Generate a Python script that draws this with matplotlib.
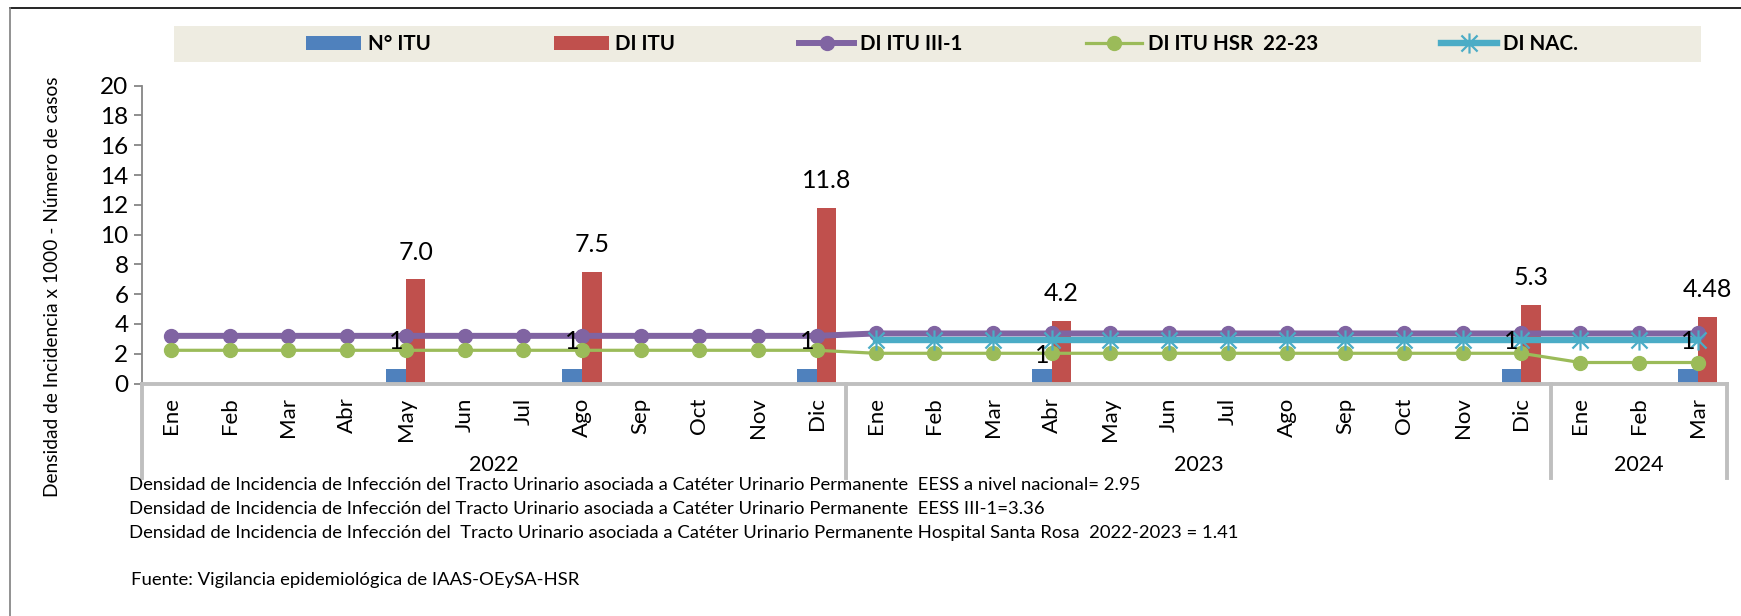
import numpy as np
import matplotlib
matplotlib.use("Agg")
import matplotlib.pyplot as plt
from matplotlib.path import Path
from matplotlib.lines import Line2D
from matplotlib.patches import Rectangle, Patch
import matplotlib.transforms as mtransforms

plt.rcParams['font.family'] = ['Lato', 'DejaVu Sans']

# ---------------- data ----------------
months = ['Ene', 'Feb', 'Mar', 'Abr', 'May', 'Jun', 'Jul', 'Ago', 'Sep', 'Oct', 'Nov', 'Dic',
          'Ene', 'Feb', 'Mar', 'Abr', 'May', 'Jun', 'Jul', 'Ago', 'Sep', 'Oct', 'Nov', 'Dic',
          'Ene', 'Feb', 'Mar']
years = ['2022', '2023', '2024']
months_per_year = [12, 12, 3]
nan = np.nan
n_itu = [nan, nan, nan, nan, 1, nan, nan, 1, nan, nan, nan, 1,
         nan, nan, nan, 1, nan, nan, nan, nan, nan, nan, nan, 1,
         nan, nan, 1]
di_itu = [nan, nan, nan, nan, 7.0, nan, nan, 7.5, nan, nan, nan, 11.8,
          nan, nan, nan, 4.2, nan, nan, nan, nan, nan, nan, nan, 5.3,
          nan, nan, 4.48]
di_itu_text = ['7.0', '7.5', '11.8', '4.2', '5.3', '4.48']
di_itu_iii1 = [3.2, 3.2, 3.2, 3.2, 3.2, 3.2, 3.2, 3.2, 3.2, 3.2, 3.2, 3.2,
               3.36, 3.36, 3.36, 3.36, 3.36, 3.36, 3.36, 3.36, 3.36, 3.36, 3.36, 3.36,
               3.36, 3.36, 3.36]
di_itu_hsr = [2.23, 2.23, 2.23, 2.23, 2.23, 2.23, 2.23, 2.23, 2.23, 2.23, 2.23, 2.23,
              2.03, 2.03, 2.03, 2.03, 2.03, 2.03, 2.03, 2.03, 2.03, 2.03, 2.03, 2.03,
              1.41, 1.41, 1.41]
di_nac = [nan, nan, nan, nan, nan, nan, nan, nan, nan, nan, nan, nan,
          2.95, 2.95, 2.95, 2.95, 2.95, 2.95, 2.95, 2.95, 2.95, 2.95, 2.95, 2.95,
          2.95, 2.95, 2.95]
series_names = ['N° ITU', 'DI ITU', 'DI ITU III-1', 'DI ITU HSR  22-23', 'DI NAC.']
notes = [
    'Densidad de Incidencia de Infección del Tracto Urinario asociada a Catéter Urinario Permanente  EESS a nivel nacional= 2.95',
    'Densidad de Incidencia de Infección del Tracto Urinario asociada a Catéter Urinario Permanente  EESS III-1=3.36',
    'Densidad de Incidencia de Infección del  Tracto Urinario asociada a Catéter Urinario Permanente Hospital Santa Rosa  2022-2023 = 1.41',
]
source = 'Fuente: Vigilancia epidemiológica de IAAS-OEySA-HSR'
ylabel = 'Densidad de Incidencia x 1000 - Número de casos'

# ---------------- style ----------------
C_BLUE = '#4F81BD'
C_RED = '#C0504D'
C_PURPLE = '#8064A2'
C_GREEN = '#9BBB59'
C_CYAN = '#4BACC6'
C_AXIS = '#BFBFBF'

W, H = 1741, 616
fig = plt.figure(figsize=(W / 100, H / 100), dpi=100)
ax = fig.add_axes([141.6 / W, 1 - 383.5 / H, (1727 - 141.6) / W, (383.5 - 85.7) / H])

x = np.arange(len(months))
bw = 1 / 3
ax.bar(x - bw / 2, n_itu, width=bw, color=C_BLUE, zorder=2)
ax.bar(x + bw / 2, di_itu, width=bw, color=C_RED, zorder=2)

ast = Path([(-1, -1), (1, 1), (-1, 1), (1, -1), (0, -1.25), (0, 1.25)],
           [Path.MOVETO, Path.LINETO, Path.MOVETO, Path.LINETO, Path.MOVETO, Path.LINETO])

ax.plot(x, di_itu_iii1, color=C_PURPLE, lw=4.3, marker='o', ms=10, zorder=3)
ax.plot(x, di_itu_hsr, color=C_GREEN, lw=2.3, marker='o', ms=10, zorder=4)
ax.plot(x, di_nac, color=C_CYAN, lw=4.6, marker=ast, ms=14.5, mew=1.6, zorder=5)

# data labels
k = 0
for i, v in enumerate(di_itu):
    if not np.isnan(v):
        ax.annotate(di_itu_text[k], (x[i] + bw / 2, v), xytext=(0, 19.5), textcoords='offset points',
                    ha='center', va='center', fontsize=18, zorder=6)
        k += 1
for i, v in enumerate(n_itu):
    if not np.isnan(v):
        off = 9.5 if i == 15 else 19.5
        ax.annotate(f'{v:.0f}', (x[i] - bw / 2, v), xytext=(0, off), textcoords='offset points',
                    ha='center', va='center', fontsize=18, zorder=6)

ax.set_xlim(-0.5, len(months) - 0.5)
ax.set_ylim(0, 20)
ax.set_yticks(np.arange(0, 21, 2))
ax.tick_params(axis='y', labelsize=17.5, length=5.5, width=1.3, color='#868686', pad=4)
ax.set_xticks(x)
ax.set_xticklabels(months, rotation=90, fontsize=16)
ax.tick_params(axis='x', length=0, pad=10)
for s in ['top', 'right']:
    ax.spines[s].set_visible(False)
ax.spines['left'].set_color('#868686')
ax.spines['left'].set_linewidth(1.3)
ax.spines['bottom'].set_color(C_AXIS)
ax.spines['bottom'].set_linewidth(2.8)

# multi-level category axis
trans = mtransforms.blended_transform_factory(ax.transData, ax.transAxes)
ybot = -(478 - 383.5) / (383.5 - 85.7)
yyear = -(465 - 383.5) / (383.5 - 85.7)
edges = np.concatenate([[0], np.cumsum(months_per_year)]) - 0.5
for e in edges:
    ax.plot([e, e], [0, ybot], transform=trans, color=C_AXIS, lw=2.8, clip_on=False, zorder=1)
for j, yr in enumerate(years):
    ax.text((edges[j] + edges[j + 1]) / 2, yyear, yr, transform=trans, ha='center', va='center', fontsize=15.5)

fig.text(53 / W, 1 - 287 / H, ylabel, rotation=90, ha='center', va='center', fontsize=13.8)

# legend band
fig.patches.append(Rectangle((174 / W, 1 - 62 / H), (1701 - 174) / W, 36 / H, transform=fig.transFigure,
                             facecolor='#EEECE1', edgecolor='none', zorder=0))
handles = [Patch(facecolor=C_BLUE), Patch(facecolor=C_RED),
           Line2D([], [], color=C_PURPLE, lw=4.3, marker='o', ms=10),
           Line2D([], [], color=C_GREEN, lw=2.3, marker='o', ms=10),
           Line2D([], [], color=C_CYAN, lw=4.6, marker=ast, ms=14.5, mew=1.6)]
fig.legend(handles, series_names, loc='center', bbox_to_anchor=(942 / W, 1 - 44 / H), ncol=5, frameon=False,
           prop=dict(family='Lato', weight='bold', size=14.8), columnspacing=6.0, handletextpad=0.3,
           handlelength=2.7, borderpad=0)

# notes
for j, t in enumerate(notes):
    fig.text(129 / W, 1 - (485 + 24 * j) / H, t, ha='left', va='center', fontsize=13.3)
fig.text(131 / W, 1 - 580 / H, source, ha='left', va='center', fontsize=13.3)

# outer frame (top and left edges visible)
fig.add_artist(Line2D([9.6 / W, 1], [1 - 8.3 / H] * 2, transform=fig.transFigure, color='black', lw=1.2))
fig.add_artist(Line2D([9.6 / W] * 2, [0, 1 - 8.3 / H], transform=fig.transFigure, color='#7F7F7F', lw=1.2))

fig.savefig('out.png', dpi=100)
